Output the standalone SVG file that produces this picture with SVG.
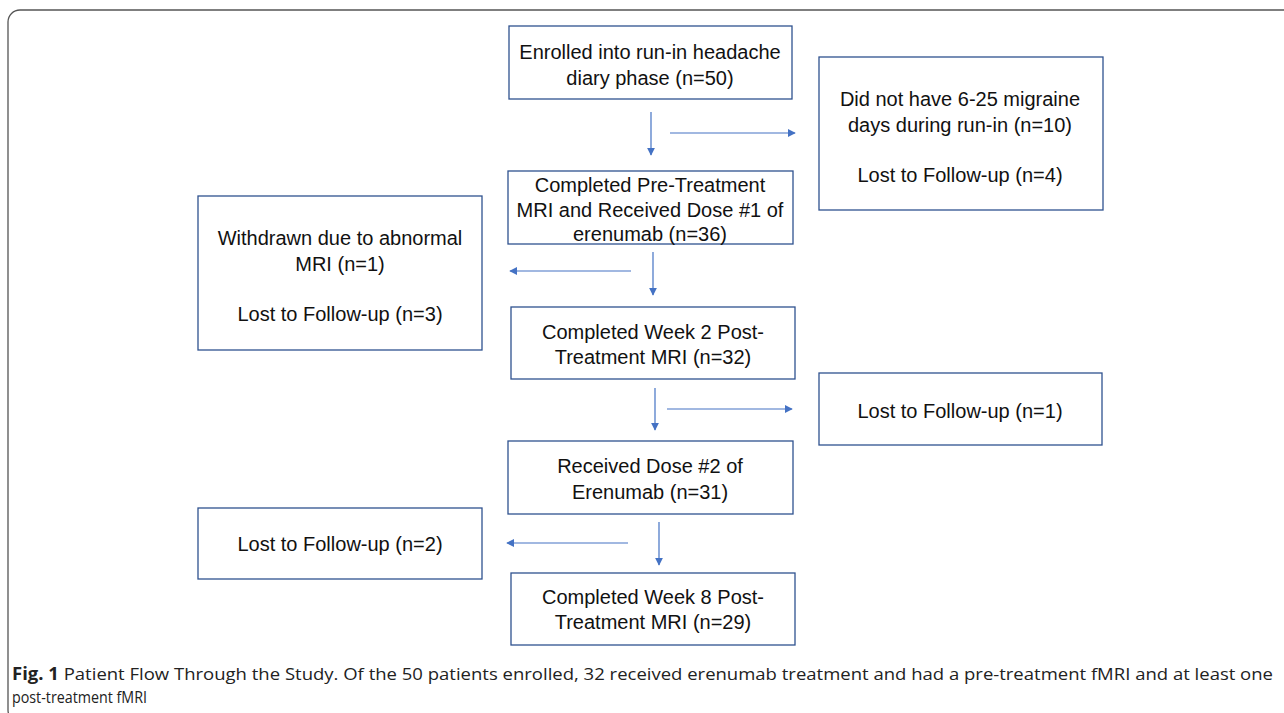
<svg xmlns="http://www.w3.org/2000/svg" width="1284" height="713" viewBox="0 0 1284 713">
<defs>
<style>
.box{fill:#fff;stroke:#2F528F;stroke-width:1.3}
.t{font-family:"Liberation Sans",Arial,sans-serif;font-size:20px;fill:#111;text-anchor:middle}
.c{stroke:#4472C4;stroke-width:1.2;fill:none;marker-end:url(#ah)}
.cap{font-family:"Open Sans","Liberation Sans",sans-serif;font-size:17px;fill:#222}
</style>
<marker id="ah" viewBox="0 0 10 10" refX="9" refY="5" markerWidth="8" markerHeight="8" markerUnits="userSpaceOnUse" orient="auto">
<path d="M0,0 L10,5 L0,10 z" fill="#4472C4"/>
</marker>
</defs>
<rect width="1284" height="713" fill="#fff"/>
<rect x="8" y="10" width="1300" height="712" rx="12" ry="12" fill="none" stroke="#555" stroke-width="1.3"/>
<g id="n1"><rect class="box" x="509" y="26" width="283" height="73"/>
<text class="t" x="650" y="59">Enrolled into run-in headache</text>
<text class="t" x="650" y="85">diary phase (n=50)</text></g>
<g id="n2"><rect class="box" x="819" y="57" width="284" height="153"/>
<text class="t" x="960" y="106">Did not have 6-25 migraine</text>
<text class="t" x="960" y="132">days during run-in (n=10)</text>
<text class="t" x="960" y="182">Lost to Follow-up (n=4)</text></g>
<g id="n3"><rect class="box" x="508" y="171" width="285" height="73"/>
<text class="t" x="650" y="192">Completed Pre-Treatment</text>
<text class="t" x="650" y="217">MRI and Received Dose #1 of</text>
<text class="t" x="650" y="241">erenumab (n=36)</text></g>
<g id="n4"><rect class="box" x="198" y="196" width="284" height="154"/>
<text class="t" x="340" y="245">Withdrawn due to abnormal</text>
<text class="t" x="340" y="271">MRI (n=1)</text>
<text class="t" x="340" y="321">Lost to Follow-up (n=3)</text></g>
<g id="n5"><rect class="box" x="511" y="307" width="284" height="72"/>
<text class="t" x="653" y="339">Completed Week 2 Post-</text>
<text class="t" x="653" y="364">Treatment MRI (n=32)</text></g>
<g id="n6"><rect class="box" x="819" y="373" width="283" height="72"/>
<text class="t" x="960" y="418">Lost to Follow-up (n=1)</text></g>
<g id="n7"><rect class="box" x="508" y="441" width="285" height="73"/>
<text class="t" x="650" y="473">Received Dose #2 of</text>
<text class="t" x="650" y="499">Erenumab (n=31)</text></g>
<g id="n8"><rect class="box" x="198" y="508" width="284" height="71"/>
<text class="t" x="340" y="551">Lost to Follow-up (n=2)</text></g>
<g id="n9"><rect class="box" x="511" y="573" width="284" height="72"/>
<text class="t" x="653" y="604">Completed Week 8 Post-</text>
<text class="t" x="653" y="629">Treatment MRI (n=29)</text></g>
<g id="connectors">
<line class="c" x1="651" y1="112" x2="651" y2="155"/>
<line class="c" x1="670" y1="133" x2="795" y2="133"/>
<line class="c" x1="631" y1="271" x2="510" y2="271"/>
<line class="c" x1="653" y1="252" x2="653" y2="295"/>
<line class="c" x1="655" y1="388" x2="655" y2="430"/>
<line class="c" x1="667" y1="409" x2="792" y2="409"/>
<line class="c" x1="628" y1="543" x2="507" y2="543"/>
<line class="c" x1="659" y1="522" x2="659" y2="565"/>
</g>
<text class="cap" x="12" y="680" textLength="1261" lengthAdjust="spacingAndGlyphs"><tspan font-weight="bold">Fig. 1</tspan>  Patient Flow Through the Study. Of the 50 patients enrolled, 32 received erenumab treatment and had a pre-treatment fMRI and at least one</text>
<text class="cap" x="12" y="703" textLength="135" lengthAdjust="spacingAndGlyphs">post-treatment fMRI</text>
</svg>
